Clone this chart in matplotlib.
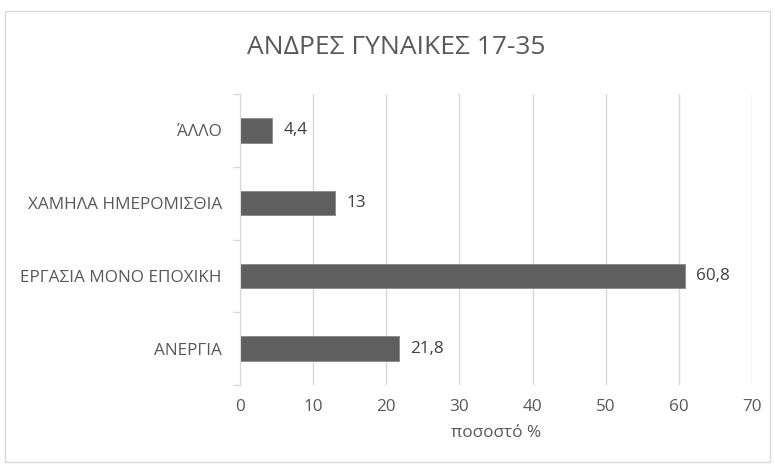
import matplotlib
matplotlib.use("Agg")
import matplotlib.pyplot as plt
from matplotlib.patches import Rectangle

plt.rcParams['font.family'] = ['Open Sans', 'DejaVu Sans']

categories = ["ΑΝΕΡΓΙΑ", "ΕΡΓΑΣΙΑ ΜΟΝΟ ΕΠΟΧΙΚΗ", "ΧΑΜΗΛΑ ΗΜΕΡΟΜΙΣΘΙΑ", "ΆΛΛΟ"]
values = [21.8, 60.8, 13, 4.4]
value_labels = ["21,8", "60,8", "13", "4,4"]
xticks = [0, 10, 20, 30, 40, 50, 60, 70]

text_color = "#595959"
grid_color = "#d9d9d9"

fig = plt.figure(figsize=(7.75, 4.7), dpi=100)
fig.patches.append(Rectangle((5 / 775, 1 - 462 / 470), 765 / 775, 451 / 470,
                             transform=fig.transFigure, fill=False,
                             edgecolor="#d9d9d9", linewidth=1.0))
ax = fig.add_axes([240 / 775, 1 - 385 / 470, 512 / 775, 291 / 470])

fs = 12.3
y = list(range(len(categories)))
ax.barh(y, values, height=0.34, color="#5f5f5f", edgecolor="#8a8a8a",
        linewidth=0.6, zorder=3)
for yi, v, lab in zip(y, values, value_labels):
    ax.text(v + 1.5, yi, lab, va="center", ha="left", fontsize=fs,
            color="#404040")

ax.set_xlim(0, 70)
ax.set_ylim(-0.5, len(categories) - 0.5)
ax.set_xticks(xticks)
ax.set_xticklabels([str(t) for t in xticks], fontsize=fs, color=text_color)
ax.set_yticks(y)
ax.set_yticklabels(categories, fontsize=fs, color=text_color)
ax.set_yticks([i - 0.5 for i in range(len(categories) + 1)], minor=True)
ax.tick_params(axis="y", which="major", length=0, pad=13)
ax.tick_params(axis="y", which="minor", length=5, color=grid_color, width=1)
ax.tick_params(axis="x", length=0, pad=10)
ax.grid(axis="x", color=grid_color, linewidth=1, zorder=0)
for s in ["top", "right", "bottom"]:
    ax.spines[s].set_visible(False)
ax.spines["left"].set_color(grid_color)
ax.spines["left"].set_zorder(4)
ax.set_xlabel("ποσοστό %", fontsize=fs, color=text_color, labelpad=7)

fig.text(396 / 775, 1 - 48 / 470, "ΑΝΔΡΕΣ ΓΥΝΑΙΚΕΣ 17-35", ha="center",
         va="center", fontsize=19, color=text_color)

fig.savefig("out.png", dpi=100)
